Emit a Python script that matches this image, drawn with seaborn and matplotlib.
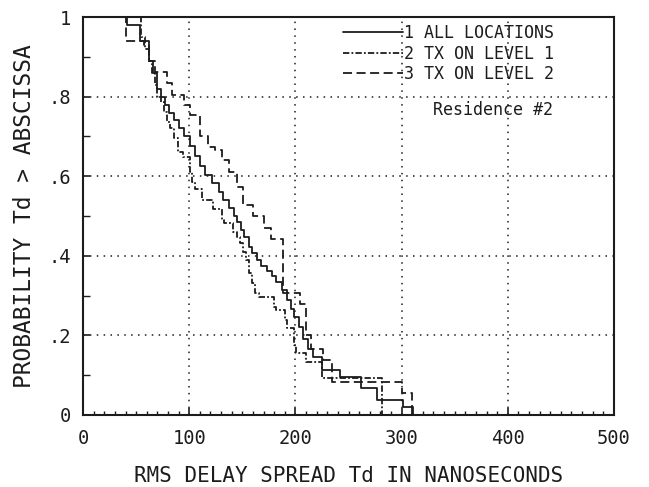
import numpy as np
import pandas as pd
import matplotlib
matplotlib.use("Agg")
import matplotlib.pyplot as plt
import seaborn as sns
from matplotlib.ticker import MultipleLocator, FixedLocator

# ---- data (step points: delay ns, probability after step) ----
all_x = [40, 41, 54, 62, 66, 70, 73, 77, 81, 86, 90, 95, 101, 105, 110, 115, 121, 128,
         132, 137, 142, 145, 149, 152, 156, 159, 164, 168, 173, 178, 182, 187, 192, 196,
         199, 203, 207, 212, 217, 225, 242, 262, 277, 301, 311]
all_p = [1.0, .98, .94, .89, .86, .82, .80, .78, .76, .74, .72, .70, .675, .65, .625, .603,
         .582, .561, .54, .519, .50, .486, .465, .448, .423, .406, .39, .375, .362, .35,
         .335, .314, .29, .265, .247, .222, .19, .165, .146, .113, .096, .067, .038, .021, 0.0]

lv1_x = [54, 55, 58, 62, 65, 68, 70, 73, 76, 79, 82, 86, 89, 94, 101, 103, 105, 112, 122,
         131, 133, 141, 145, 148, 151, 153, 156, 159, 162, 166, 180, 182, 190, 192, 199,
         201, 210, 225, 282]
lv1_p = [1.0, .95, .92, .89, .86, .83, .80, .787, .762, .737, .72, .695, .661, .649, .61,
         .585, .569, .54, .517, .49, .482, .46, .448, .432, .41, .389, .356, .331, .306,
         .297, .272, .264, .239, .218, .176, .155, .134, .092, 0.0]

lv2_x = [38, 40, 57, 62, 68, 79, 84, 95, 101, 110, 118, 124, 131, 137, 145, 151, 160, 170,
         177, 188, 204, 210, 215, 226, 234, 300, 310]
lv2_p = [1.0, .94, .93, .89, .863, .834, .804, .779, .754, .70, .674, .665, .64, .61, .574,
         .528, .50, .47, .442, .306, .28, .20, .166, .138, .084, .056, 0.0]

labels = ["1 ALL LOCATIONS", "2 TX ON LEVEL 1", "3 TX ON LEVEL 2"]
x_ticks = [0, 100, 200, 300, 400, 500]
x_tick_labels = ["0", "100", "200", "300", "400", "500"]
y_ticks = [0, .2, .4, .6, .8, 1]
y_tick_labels = ["0", ".2", ".4", ".6", ".8", "1"]

# ---- style ----
sns.set_theme(style="white")
plt.rcParams["font.family"] = ["DejaVu Sans Mono", "DejaVu Sans"]
ink = "#1c1c1c"

fig = plt.figure(figsize=(6.49, 4.87), dpi=100)
ax = fig.add_axes([0.128, 0.148, 0.818, 0.817])

styles = ["-", (0, (3.5, 1.2, 1, 1.2)), (0, (5, 2.5))]
series = [(all_x, all_p), (lv1_x, lv1_p), (lv2_x, lv2_p)]
for (xs, ps), lab, ls in zip(series, labels, styles):
    df = pd.DataFrame({"delay": xs, "prob": ps})
    sns.lineplot(data=df, x="delay", y="prob", ax=ax, estimator=None, sort=False,
                 drawstyle="steps-post", color=ink, linewidth=1.3, linestyle=ls,
                 label=lab)

ax.set_xlim(0, 500)
ax.set_ylim(0, 1)
ax.xaxis.set_major_locator(FixedLocator(x_ticks))
ax.set_xticklabels(x_tick_labels)
ax.yaxis.set_major_locator(FixedLocator(y_ticks))
ax.set_yticklabels(y_tick_labels)
ax.xaxis.set_minor_locator(MultipleLocator(10))
ax.yaxis.set_minor_locator(MultipleLocator(0.1))

ax.tick_params(axis="both", which="major", direction="in", length=5, width=1.2,
               color=ink, labelsize=13.5, labelcolor=ink, bottom=True, left=True,
               top=False, right=False)
ax.tick_params(axis="x", which="major", pad=10)
ax.tick_params(axis="y", which="major", pad=9)
ax.tick_params(axis="x", which="minor", direction="in", length=3, width=1, color=ink,
               bottom=True, top=False)
ax.tick_params(axis="y", which="minor", direction="in", length=5, width=1, color=ink,
               left=True, right=False)

for sp in ax.spines.values():
    sp.set_linewidth(1.5)
    sp.set_color(ink)

ax.grid(False)
for gx in x_ticks[1:-1]:
    ax.axvline(gx, color=ink, linewidth=1.1, linestyle=(0, (1, 3.5)), zorder=0)
for gy in y_ticks[1:-1]:
    ax.axhline(gy, color=ink, linewidth=1.1, linestyle=(0, (1, 3.5)), zorder=0)

ax.set_xlabel("RMS DELAY SPREAD Td IN NANOSECONDS", fontsize=15, color=ink, labelpad=13)
ax.set_ylabel("PROBABILITY Td > ABSCISSA", fontsize=16.5, color=ink, labelpad=9)

leg = ax.legend(loc="upper left", bbox_to_anchor=(0.49, 0.982), frameon=False,
                fontsize=12, handlelength=3.6, handletextpad=0.05, labelspacing=0.15,
                borderpad=0, borderaxespad=0)
for t in leg.get_texts():
    t.set_color(ink)

ax.text(0.772, 0.766, "Residence #2", transform=ax.transAxes, ha="center", va="center",
        fontsize=12, color=ink)

fig.savefig("out.png", dpi=100)
